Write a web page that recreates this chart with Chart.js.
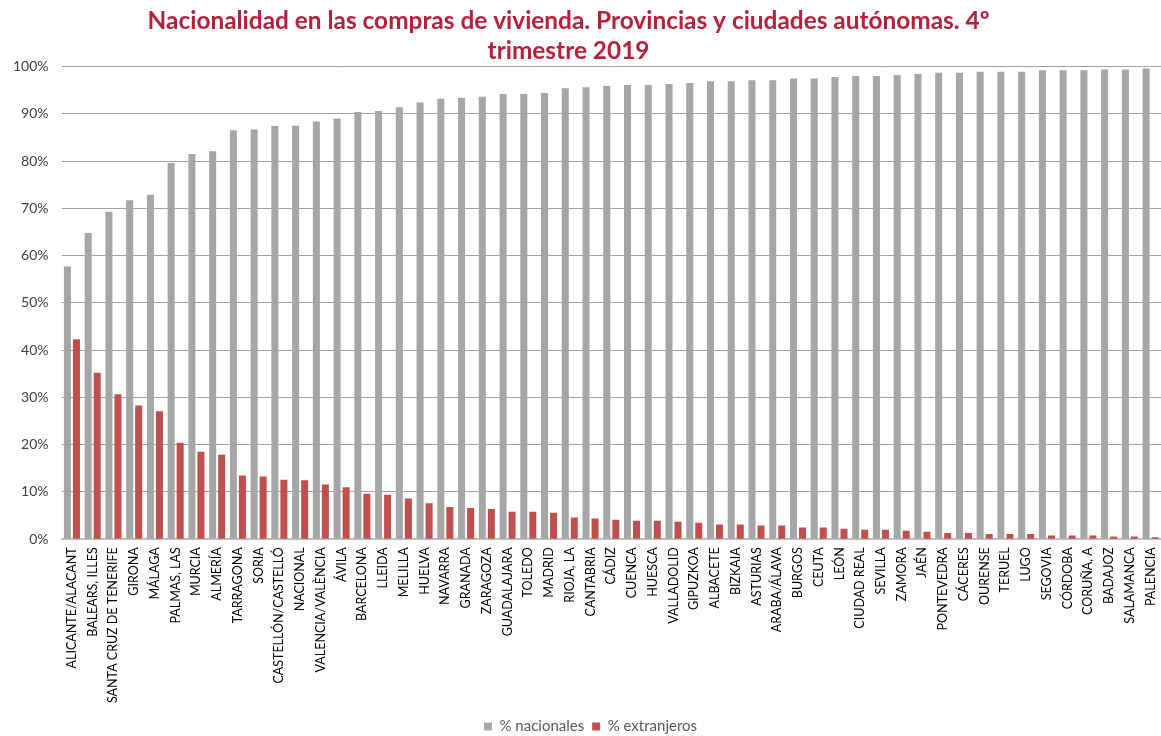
<!DOCTYPE html>
<html>
<head>
<meta charset="utf-8">
<script src="https://cdn.jsdelivr.net/npm/chart.js@4"></script>
<style>
html,body{margin:0;padding:0;background:#fff;}
#wrap{width:1161px;height:736px;}
</style>
</head>
<body>
<div id="wrap"><canvas id="c" width="1161" height="736"></canvas></div>
<script>
const categories = ["ALICANTE/ALACANT","BALEARS, ILLES","SANTA CRUZ DE TENERIFE","GIRONA","MÁLAGA","PALMAS, LAS","MURCIA","ALMERÍA","TARRAGONA","SORIA","CASTELLÓN/CASTELLÓ","NACIONAL","VALENCIA/VALÈNCIA","ÁVILA","BARCELONA","LLEIDA","MELILLA","HUELVA","NAVARRA","GRANADA","ZARAGOZA","GUADALAJARA","TOLEDO","MADRID","RIOJA, LA","CANTABRIA","CÁDIZ","CUENCA","HUESCA","VALLADOLID","GIPUZKOA","ALBACETE","BIZKAIA","ASTURIAS","ARABA/ÁLAVA","BURGOS","CEUTA","LEÓN","CIUDAD REAL","SEVILLA","ZAMORA","JAÉN","PONTEVEDRA","CÁCERES","OURENSE","TERUEL","LUGO","SEGOVIA","CÓRDOBA","CORUÑA, A","BADAJOZ","SALAMANCA","PALENCIA"];
const nacionales = [57.7,64.8,69.3,71.7,72.9,79.6,81.5,82.1,86.5,86.7,87.4,87.5,88.4,89.0,90.4,90.6,91.4,92.4,93.2,93.4,93.6,94.2,94.2,94.4,95.4,95.6,95.9,96.1,96.1,96.3,96.5,96.9,96.9,97.1,97.1,97.5,97.5,97.8,98.0,98.0,98.2,98.4,98.7,98.7,98.9,98.9,98.9,99.2,99.2,99.2,99.4,99.4,99.6];
const extranjeros = [42.3,35.2,30.7,28.3,27.1,20.4,18.5,17.9,13.5,13.3,12.6,12.5,11.6,11.0,9.6,9.4,8.6,7.6,6.8,6.6,6.4,5.8,5.8,5.6,4.6,4.4,4.1,3.9,3.9,3.7,3.5,3.1,3.1,2.9,2.9,2.5,2.5,2.2,2.0,2.0,1.8,1.6,1.3,1.3,1.1,1.1,1.1,0.8,0.8,0.8,0.6,0.6,0.4];
const yTicks = [0,10,20,30,40,50,60,70,80,90,100];
const titleLines = ["Nacionalidad en las compras de vivienda. Provincias y ciudades autónomas. 4º","trimestre 2019"];

const FONT = "Lato, 'Open Sans', sans-serif";
const shiftPlugin = {
  id: 'shift',
  afterLayout(chart) {
    chart.titleBlock.right = chart.width - 24;
    chart.legend.left += 10;
    chart.legend.right += 10;
  }
};
new Chart(document.getElementById('c'), {
  type: 'bar',
  data: {
    labels: categories,
    datasets: [
      {label: '% nacionales', data: nacionales, backgroundColor: '#A6A6A6', categoryPercentage: 0.87, barPercentage: 0.78},
      {label: '% extranjeros', data: extranjeros, backgroundColor: '#C0504D', categoryPercentage: 0.87, barPercentage: 0.78}
    ]
  },
  plugins: [shiftPlugin],
  options: {
    responsive: false,
    animation: false,
    layout: {padding: {left: 0, right: 0, top: 7, bottom: -8}},
    plugins: {
      title: {display: true, text: titleLines, color: '#B5213A', font: {family: FONT, size: 24.4, weight: 'bold'}, padding: {top: 0, bottom: 1}, lineHeight: 1.3},
      legend: {position: 'bottom', labels: {color: '#595959', font: {family: FONT, size: 15}, boxWidth: 8, boxHeight: 8, padding: 8}},
      tooltip: {enabled: false}
    },
    scales: {
      x: {
        afterFit: (s) => { s.paddingRight = 0; },
        grid: {display: false, drawTicks: false},
        border: {color: '#BFBFBF', width: 2},
        ticks: {color: '#000', font: {family: FONT, size: 12.5}, minRotation: 90, maxRotation: 90, autoSkip: false, padding: 8}
      },
      y: {
        min: 0, max: 100,
        afterBuildTicks: (axis) => { axis.ticks = yTicks.map(v => ({value: v})); },
        grid: {color: '#A0A0A0', drawTicks: false},
        border: {display: false},
        ticks: {color: '#404040', font: {family: FONT, size: 14}, padding: 13, callback: v => v + '%'}
      }
    }
  }
});
</script>
</body>
</html>
